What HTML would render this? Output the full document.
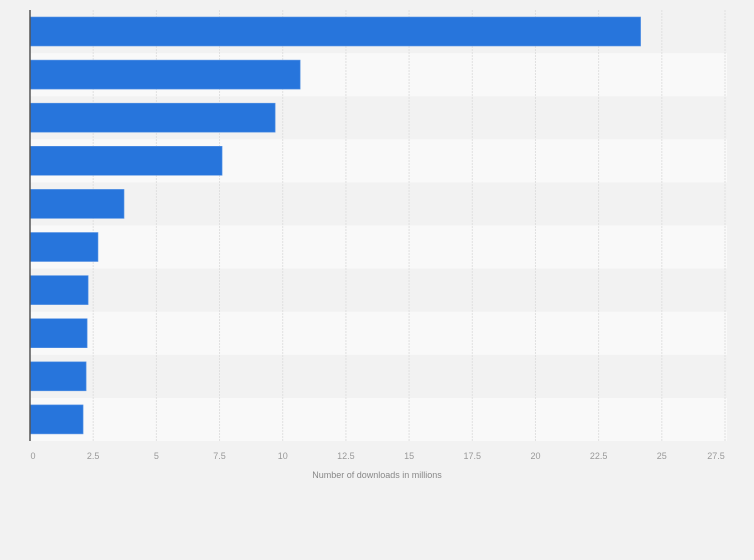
<!DOCTYPE html>
<html><head><meta charset="utf-8"><style>
body{margin:0;background:#f2f2f2;font-family:"Liberation Sans",sans-serif}
svg{display:block}
</style></head><body>
<svg width="754" height="560" xmlns="http://www.w3.org/2000/svg" id="chart">
<rect x="0" y="0" width="754" height="560" fill="#f2f2f2"/>
</svg>
<script>
const values=[24.16,10.69,9.7,7.6,3.72,2.69,2.3,2.26,2.22,2.1];
const ticks=[0,2.5,5,7.5,10,12.5,15,17.5,20,22.5,25,27.5];
const tickLabels=["0","2.5","5","7.5","10","12.5","15","17.5","20","22.5","25","27.5"];
const svg=document.getElementById('chart');
const NS='http://www.w3.org/2000/svg';
const x0=30,x1=725,yTop=10,yBot=441,xMax=27.5;
const band=(yBot-yTop)/values.length;
const xs=v=>x0+v/xMax*(x1-x0);
function mk(t,a){const e=document.createElementNS(NS,t);for(const k in a)e.setAttribute(k,a[k]);svg.appendChild(e);return e;}
values.forEach((v,i)=>{
  if(i%2===1){const b=mk('rect',{x:x0,y:yTop+i*band,width:x1-x0+2,height:band,fill:'#f9f9f9'});
  
  }
});
ticks.forEach((t,i)=>{
  if(i>0){const g=mk('line',{x1:xs(t),x2:xs(t),y1:yTop,y2:yBot,stroke:'#e0e0e0','stroke-width':1,'stroke-dasharray':'2,1'});
  
  }
  const last=i===ticks.length-1;
  const l=mk('text',{x:xs(t)+(i===0?3:0)+(last?-9:0),y:459,'text-anchor':'middle','font-size':9,fill:'#999'});
  l.textContent=tickLabels[i];
  
  
});
values.forEach((v,i)=>{
  const r=mk('rect',{x:x0,y:yTop+i*band+7,width:xs(v)-x0,height:29,fill:'#2775dc',stroke:'#5a95e4','stroke-width':0.6});
  
  
});
const ax=mk('line',{x1:x0,x2:x0,y1:yTop,y2:yBot,stroke:'#555','stroke-width':1.5});


const tt=mk('text',{x:377,y:478,'text-anchor':'middle','font-size':9,fill:'#888'});
tt.textContent='Number of downloads in millions';


</script>
</body></html>
